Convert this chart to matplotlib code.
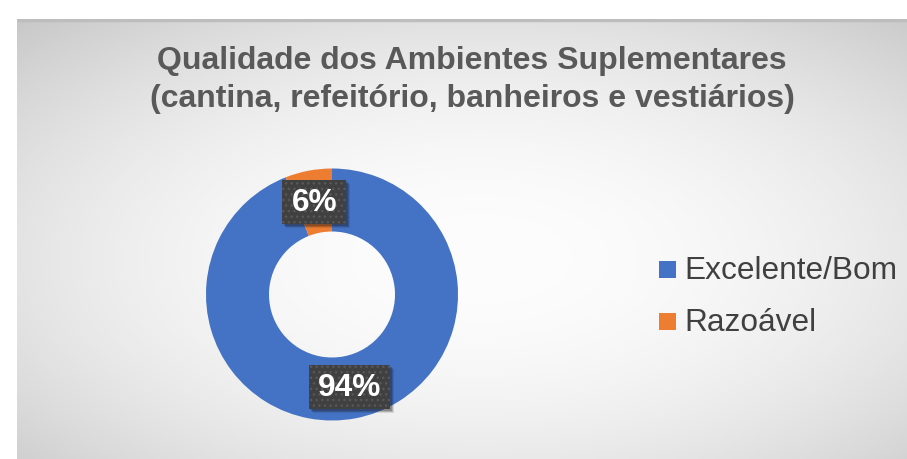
import numpy as np
import matplotlib
matplotlib.use("Agg")
import matplotlib.pyplot as plt
from matplotlib.patches import Rectangle

# ---- data ----
categories = ["Excelente/Bom", "Razoável"]
values = [94, 6]
pct_labels = ["94%", "6%"]
colors = ["#4472C4", "#ED7D31"]
title_lines = ["Qualidade dos Ambientes Suplementares",
               "(cantina, refeitório, banheiros e vestiários)"]

W, H = 907, 460
DPI = 100
fig = plt.figure(figsize=(W / DPI, H / DPI), dpi=DPI)
fig.patch.set_facecolor("white")

# ---- background chart area with radial gradient ----
x0, y0, x1, y1 = 17, 0, 907, 440  # pixels from bottom-left (y up)
bg = fig.add_axes([x0 / W, y0 / H, (x1 - x0) / W, (y1 - y0) / H])
bg.set_axis_off()
nx, ny = 300, 150
gx = np.linspace(0, 1, nx)
gy = np.linspace(0, 1, ny)
GX, GY = np.meshgrid(gx, gy)
cx, cy = (480 - x0) / (x1 - x0), 1 - (260 - 20) / (y1 - y0)
d2 = ((GX - cx)) ** 2 + ((GY - cy)) ** 2
val = (253 - 94 * d2) / 255.0
img = np.dstack([val, val, val])
bg.imshow(img, extent=[0, 1, 0, 1], origin="lower", aspect="auto", interpolation="bicubic")
bg.set_xlim(0, 1)
bg.set_ylim(0, 1)
bg.plot([0, 1], [0.997, 0.997], color="#bdbdbd", lw=2.5, solid_capstyle="butt")

# ---- title ----
fig.text(472 / W, 1 - 61 / H, title_lines[0], ha="center", va="center",
         fontsize=23, fontweight="bold", color="#595959", family="Liberation Sans")
fig.text(472 / W, 1 - 99 / H, title_lines[1], ha="center", va="center",
         fontsize=23, fontweight="bold", color="#595959", family="Liberation Sans")

# ---- donut ----
ccx, ccy, R = 332, H - 295.5, 126
ax = fig.add_axes([(ccx - R) / W, (ccy - R) / H, 2 * R / W, 2 * R / H])
ax.set_axis_off()
wedges, _ = ax.pie(values, colors=colors, startangle=90, counterclock=False,
                   radius=1, wedgeprops=dict(width=0.5, edgecolor="none"))
ax.set_xlim(-1, 1)
ax.set_ylim(-1, 1)
ax.set_aspect("equal")

# data labels at ring middle
total = float(sum(values))
angle = 90.0
label_texts = []
for v, lab in zip(values, pct_labels):
    span = 360.0 * v / total
    mid = np.deg2rad(angle - span / 2)
    angle -= span
    lx, ly = 0.75 * np.cos(mid), 0.75 * np.sin(mid)
    t = ax.text(lx, ly, lab, ha="center", va="center", fontsize=22.8,
                fontweight="bold", color="white", family="Liberation Sans", zorder=10)
    label_texts.append(t)

fig.canvas.draw()
renderer = fig.canvas.get_renderer()
for t in label_texts:
    bb = t.get_window_extent(renderer)
    px, py = 9, 7
    bx, by = bb.x0 - px, bb.y0 - py
    bw, bh = bb.width + 2 * px, bb.height + 2 * py
    for k, a in [(4, 0.12), (3, 0.2), (2, 0.25)]:
        fig.patches.append(Rectangle((bx + k, by - k), bw, bh, transform=None,
                                     facecolor="#1a1a1a", alpha=a, edgecolor="none",
                                     figure=fig, zorder=8))
    fig.patches.append(Rectangle((bx, by), bw, bh, transform=None,
                                 facecolor="#404040", edgecolor="#585858", linewidth=0,
                                 hatch="...", figure=fig, zorder=9))

# redraw labels at figure level so they sit above the boxes
for t in label_texts:
    bb = t.get_window_extent(renderer)
    xc, yc = (bb.x0 + bb.x1) / 2, (bb.y0 + bb.y1) / 2
    t.set_visible(False)
    fig.text(xc / W, yc / H, t.get_text(), ha="center", va="center",
             fontsize=22.8, fontweight="bold", color="white",
             family="Liberation Sans", zorder=11)

# ---- legend ----
leg_rows = [279, 331]  # baselines in pixels from top
for cat, col, base in zip(categories, colors, leg_rows):
    fig.patches.append(Rectangle((659 / W, (H - base) / H), 17 / W, 17 / H,
                                 transform=fig.transFigure, facecolor=col,
                                 edgecolor="none", figure=fig))
    fig.text(684 / W, (H - base) / H, cat, ha="left", va="baseline",
             fontsize=22.8, color="#404040", family="Liberation Sans")

fig.savefig("out.png", dpi=DPI)
